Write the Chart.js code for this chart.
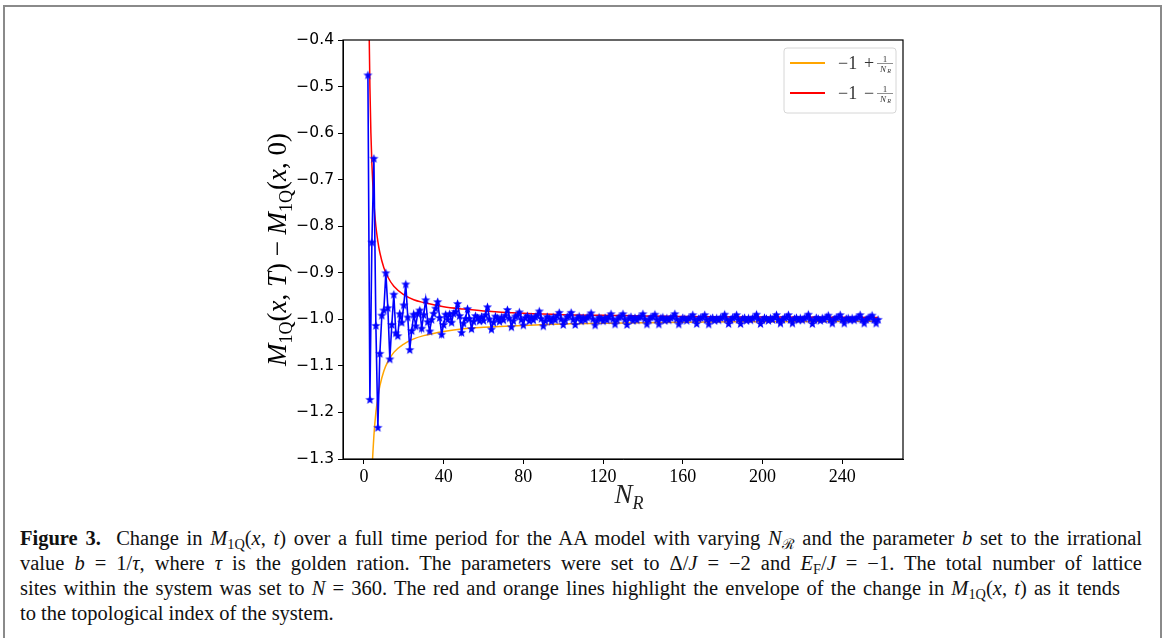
<!DOCTYPE html>
<html>
<head>
<meta charset="utf-8">
<script src="https://cdn.jsdelivr.net/npm/chart.js@4.4.1/dist/chart.umd.min.js"></script>
<style>
  html, body { margin: 0; padding: 0; background: #fff; }
  body { width: 1165px; height: 638px; position: relative; overflow: hidden; }
  #frame { position: absolute; left: 3px; top: 5px; width: 1155px; height: 660px; border: 2px solid #8a8a8a; }
  #wrap { position: absolute; left: 0; top: 0; width: 1165px; height: 518px; }
  #caption { position: absolute; left: 20px; top: 526px; width: 1122px; font-family: "Liberation Serif", serif; font-size: 20.5px; line-height: 25px; color: #111; }
  #caption div { white-space: nowrap; }
  #caption .j { text-align: justify; text-align-last: justify; }
  #caption sub { font-size: 70%; vertical-align: -0.25em; line-height: 0; }
</style>
</head>
<body>
<div id="frame"></div>
<div id="wrap"><canvas id="chart" width="1165" height="518"></canvas></div>
<div id="caption">
  <div class="j"><b>Figure 3.</b>&nbsp; Change in <i>M</i><sub>1Q</sub>(<i>x</i>, <i>t</i>) over a full time period for the AA model with varying <i>N</i><sub>ℛ</sub> and the parameter <i>b</i> set to the irrational</div>
  <div class="j">value <i>b</i> = 1/<i>τ</i>, where <i>τ</i> is the golden ration. The parameters were set to Δ/<i>J</i> = −2 and <i>E</i><sub>F</sub>/<i>J</i> = −1. The total number of lattice</div>
  <div class="j" style="width:1100px">sites within the system was set to <i>N</i> = 360. The red and orange lines highlight the envelope of the change in <i>M</i><sub>1Q</sub>(<i>x</i>, <i>t</i>) as it tends</div>
  <div>to the topological index of the system.</div>
</div>
<script>
// N_R runs from 2 upward, one value per integer step
const nStart = 2;
const changeValues = [
  -0.475, -1.172, -0.834, -0.654, -1.013, -1.232, -1.073, -0.991, -0.980, -0.900,
  -0.975, -1.085, -1.011, -0.946, -1.029, -1.035, -0.988, -1.006, -0.969, -0.924,
  -0.995, -1.065, -1.024, -0.989, -1.014, -0.987, -0.980, -1.019, -0.990, -0.958,
  -1.005, -1.025, -1.000, -0.987, -0.976, -0.962, -0.996, -1.032, -1.011, -0.989,
  -1.000, -0.988, -1.006, -0.987, -0.983, -0.966, -0.992, -1.028, -1.008, -0.998,
  // N = 52
  -0.977, -0.998, -1.020, -1.004, -0.992, -0.996, -1.003, -0.994, -1.002, -0.990,
  -0.973, -0.999, -1.021, -1.006, -0.993, -0.997, -1.004, -0.995, -1.001, -0.991,
  -0.979, -0.997, -1.016, -1.003, -0.993, -0.991, -0.984, -1.000, -1.012, -0.996,
  -0.992, -1.003, -0.995, -1.001, -0.994, -0.991, -0.982, -0.998, -1.014, -1.003,
  -0.994, -0.998, -1.004, -0.995, -1.001, -0.992, -0.985, -0.999, -1.011, -1.002,
  // N = 102
  -0.994, -0.992, -0.985, -1.000, -1.011, -0.997, -0.993, -1.003, -0.996, -1.001,
  -0.995, -0.993, -0.986, -0.999, -1.012, -1.002, -0.995, -0.998, -1.003, -0.996,
  -1.001, -0.994, -0.988, -0.999, -1.010, -1.001, -0.995, -0.993, -0.988, -1.000,
  -1.011, -0.997, -0.994, -1.002, -0.996, -1.001, -0.995, -0.994, -0.988, -0.999,
  -1.010, -1.001, -0.995, -0.994, -0.989, -1.000, -1.010, -0.997, -0.995, -1.002,
  // N = 152
  -0.997, -1.001, -0.996, -0.994, -0.988, -0.999, -1.010, -1.001, -0.996, -0.998,
  -1.002, -0.997, -0.995, -0.990, -1.000, -1.009, -0.998, -0.996, -0.995, -0.990,
  -1.000, -1.010, -0.998, -0.996, -1.002, -0.997, -1.001, -0.996, -0.995, -0.989,
  -0.999, -1.009, -1.001, -0.996, -0.995, -0.990, -1.000, -1.009, -0.998, -0.996,
  -1.002, -0.997, -1.001, -0.997, -0.995, -0.989, -0.999, -1.009, -1.001, -0.996,
  // N = 202
  -0.998, -1.002, -0.997, -1.000, -0.995, -0.990, -1.000, -1.008, -1.000, -0.996,
  -0.995, -0.990, -1.000, -1.008, -0.998, -0.996, -1.001, -0.997, -1.001, -0.997,
  -0.995, -0.989, -0.999, -1.009, -1.001, -0.996, -0.998, -1.002, -0.997, -1.000,
  -0.995, -0.991, -1.000, -1.008, -0.999, -0.996, -0.995, -0.990, -1.000, -1.008,
  -0.998, -0.997, -1.001, -0.997, -1.001, -0.997, -0.995, -0.990, -1.000, -1.008,
  // N = 252
  -1.000, -0.997, -0.995, -0.991, -1.000, -1.008, -1.000
];

// upper envelope (red)
const upperN = [2.6, 3, 3.5, 4, 5, 6, 7, 8, 10, 12, 15, 20, 25, 30, 40, 50, 60, 80, 100, 130, 160, 200, 258];
const upperValues = [-0.375, -0.500, -0.600, -0.667, -0.750, -0.800, -0.833, -0.857, -0.889, -0.909, -0.929,
  -0.947, -0.958, -0.964, -0.973, -0.978, -0.982, -0.987, -0.990, -0.992, -0.994, -0.995, -0.996];

// lower envelope (orange)
const lowerN = [4.2, 4.5, 5, 6, 7, 8, 10, 12, 15, 20, 25, 30, 40, 50, 60, 80, 100, 130, 160, 200, 258];
const lowerValues = [-1.3125, -1.286, -1.250, -1.200, -1.167, -1.143, -1.111, -1.091, -1.071, -1.053, -1.042,
  -1.035, -1.026, -1.020, -1.017, -1.013, -1.010, -1.008, -1.006, -1.005, -1.004];

const xTicks = [0, 40, 80, 120, 160, 200, 240];
const yTicks = [-1.3, -1.2, -1.1, -1.0, -0.9, -0.8, -0.7, -0.6, -0.5, -0.4];

function makeStar(r, color) {
  const s = Math.ceil(r * 2) + 1;
  const c = document.createElement("canvas");
  c.width = s;
  c.height = s;
  const g = c.getContext("2d");
  g.translate(s / 2, s / 2 + 0.5);
  g.beginPath();
  for (let i = 0; i < 10; i++) {
    const rad = i % 2 ? r * 0.42 : r;
    const a = -Math.PI / 2 + i * Math.PI / 5;
    g.lineTo(rad * Math.cos(a), rad * Math.sin(a));
  }
  g.closePath();
  g.fillStyle = color;
  g.fill();
  return c;
}

// draws a row of text pieces (for subscripts etc.)
function drawRuns(ctx, runs, x, y) {
  let cx = x;
  runs.forEach(r => {
    ctx.font = (r.italic ? "italic " : "") + r.size + "px 'Liberation Serif', serif";
    ctx.fillText(r.t, cx, y + (r.dy || 0));
    cx += ctx.measureText(r.t).width;
  });
  return cx - x;
}
function runsWidth(ctx, runs) {
  let w = 0;
  runs.forEach(r => {
    ctx.font = (r.italic ? "italic " : "") + r.size + "px 'Liberation Serif', serif";
    w += ctx.measureText(r.t).width;
  });
  return w;
}

const S = 27, SS = 18;
const yTitle = [
  { t: "M", size: S, italic: true }, { t: "1Q", size: SS, dy: 6 },
  { t: "(", size: S }, { t: "x", size: S, italic: true }, { t: ", ", size: S },
  { t: "T", size: S, italic: true }, { t: ")", size: S }, { t: " − ", size: S },
  { t: "M", size: S, italic: true }, { t: "1Q", size: SS, dy: 6 },
  { t: "(", size: S }, { t: "x", size: S, italic: true }, { t: ", 0)", size: S }
];
const xTitle = [{ t: "N", size: S, italic: true }, { t: "R", size: SS, italic: true, dy: 6 }];

const decorPlugin = {
  id: "decor",
  afterDatasetsDraw(chart) {
    const ctx = chart.ctx;
    const a = chart.chartArea;
    ctx.save();
    ctx.strokeStyle = "#000";
    ctx.lineWidth = 1.2;
    ctx.strokeRect(a.left, a.top, a.right - a.left, a.bottom - a.top);

    ctx.fillStyle = "#000";
    ctx.textBaseline = "alphabetic";
    // y title
    ctx.save();
    ctx.translate(286, (a.top + a.bottom) / 2);
    ctx.rotate(-Math.PI / 2);
    drawRuns(ctx, yTitle, -runsWidth(ctx, yTitle) / 2, 0);
    ctx.restore();
    // x title
    ctx.fillStyle = "#222";
    drawRuns(ctx, xTitle, (a.left + a.right) / 2 - runsWidth(ctx, xTitle) / 2 + 6, 503);

    // legend
    const lx = 784, ly = 48, lw = 112, lh = 65;
    ctx.beginPath();
    ctx.roundRect(lx, ly, lw, lh, 3);
    ctx.fillStyle = "rgba(255,255,255,0.85)";
    ctx.fill();
    ctx.strokeStyle = "#d6d6d6";
    ctx.lineWidth = 1;
    ctx.stroke();
    const entries = [
      { color: "#ffa500", sign: "+", y: 63 },
      { color: "#ff0000", sign: "−", y: 93 }
    ];
    entries.forEach(e => {
      ctx.strokeStyle = e.color;
      ctx.lineWidth = 1.8;
      ctx.beginPath();
      ctx.moveTo(790, e.y);
      ctx.lineTo(825, e.y);
      ctx.stroke();
      ctx.fillStyle = "#333";
      ctx.font = "18px 'Liberation Serif', serif";
      ctx.fillText("−1", 838, e.y + 6);
      ctx.fillText(e.sign, 864, e.y + 6);
      ctx.font = "9px 'Liberation Serif', serif";
      ctx.textAlign = "center";
      ctx.fillText("1", 885, e.y - 1.5);
      ctx.font = "italic 9px 'Liberation Serif', serif";
      ctx.fillText("N", 883, e.y + 8.5);
      ctx.font = "italic 6px 'Liberation Serif', serif";
      ctx.fillText("R", 889, e.y + 10);
      ctx.textAlign = "left";
      ctx.strokeStyle = "#444";
      ctx.lineWidth = 0.6;
      ctx.beginPath();
      ctx.moveTo(877, e.y + 0.5);
      ctx.lineTo(893, e.y + 0.5);
      ctx.stroke();
    });
    ctx.restore();
  }
};

const starImg = makeStar(4.8, "#0000ff");

new Chart(document.getElementById("chart"), {
  type: "line",
  data: {
    datasets: [
      {
        data: changeValues.map((v, i) => ({ x: nStart + i, y: v })),
        borderColor: "#0000ff",
        borderWidth: 1.6,
        pointStyle: starImg,
        pointRadius: 5,
        tension: 0
      },
      {
        data: upperN.map((n, i) => ({ x: n, y: upperValues[i] })),
        borderColor: "#ff0000",
        borderWidth: 1.5,
        pointRadius: 0,
        cubicInterpolationMode: "monotone"
      },
      {
        data: lowerN.map((n, i) => ({ x: n, y: lowerValues[i] })),
        borderColor: "#ffa500",
        borderWidth: 1.5,
        pointRadius: 0,
        cubicInterpolationMode: "monotone"
      }
    ]
  },
  options: {
    responsive: false,
    animation: false,
    events: [],
    layout: { padding: { left: 283, right: 262, top: 40, bottom: 29 } },
    plugins: { legend: { display: false }, tooltip: { enabled: false } },
    scales: {
      x: {
        type: "linear",
        min: -10.5,
        max: 270.5,
        afterBuildTicks: s => { s.ticks = xTicks.map(v => ({ value: v })); },
        afterFit: s => { s.height = 30; },
        grid: { drawOnChartArea: false, drawTicks: true, tickLength: 5, color: "#000" },
        border: { display: true, color: "#000" },
        ticks: { color: "#000", padding: 2, maxRotation: 0, font: { family: "'Liberation Serif', serif", size: 18 } }
      },
      y: {
        type: "linear",
        min: -1.3,
        max: -0.4,
        afterBuildTicks: s => { s.ticks = yTicks.map(v => ({ value: v })); },
        afterFit: s => { s.width = 60; },
        grid: { drawOnChartArea: false, drawTicks: true, tickLength: 5, color: "#000" },
        border: { display: true, color: "#000" },
        ticks: {
          color: "#000",
          padding: 4,
          font: { family: "'DejaVu Sans', sans-serif", size: 15.5 },
          callback: v => (v < 0 ? "\u2212" : "") + Math.abs(v).toFixed(1)
        }
      }
    }
  },
  plugins: [decorPlugin]
});
</script>
</body>
</html>
